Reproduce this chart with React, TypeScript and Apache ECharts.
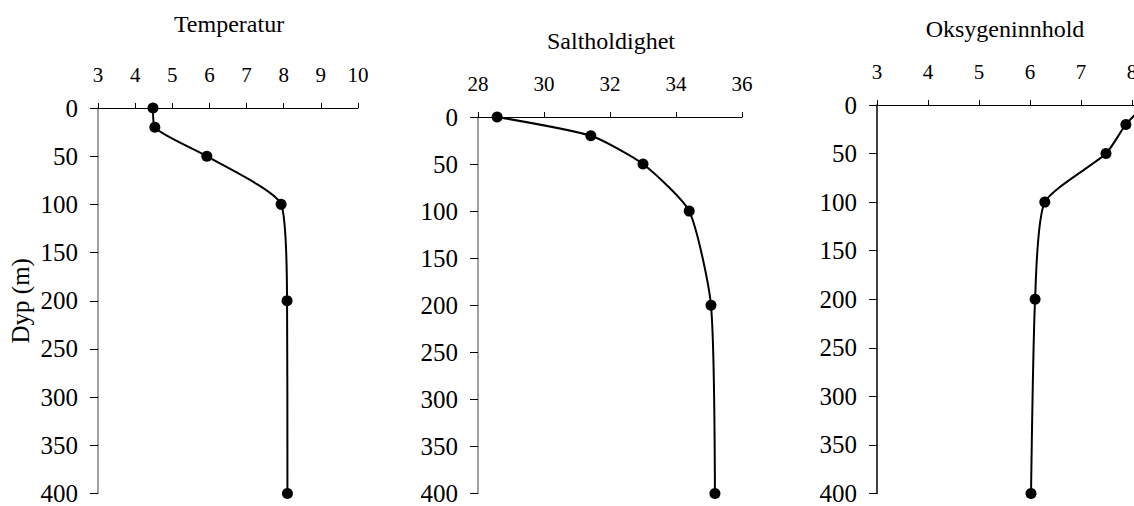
import React, { useEffect, useRef } from "react";
import * as echarts from "echarts";

const depths = [0, 20, 50, 100, 200, 400];
const temperature = [4.48, 4.53, 5.93, 7.93, 8.09, 8.1];
const salinity = [28.58, 31.42, 33.0, 34.4, 35.06, 35.18];
const oxygen = [8.25, 7.88, 7.49, 6.29, 6.1, 6.02];

const titles = ["Temperatur", "Saltholdighet", "Oksygeninnhold"];
const yAxisName = "Dyp (m)";

const FONT = "'Liberation Serif', 'Times New Roman', serif";

export default function App() {
  const ref = useRef<HTMLDivElement>(null);
  useEffect(() => {
    if (!ref.current) return;
    const chart = echarts.init(ref.current, null, { renderer: "svg" });
    const grids = [
      { left: 98, top: 108, width: 260, height: 387 },
      { left: 478, top: 117, width: 264, height: 378 },
      { left: 877, top: 105, width: 357, height: 389 },
    ];
    const xRanges = [
      { min: 3, max: 10, interval: 1 },
      { min: 28, max: 36, interval: 2 },
      { min: 3, max: 10, interval: 1 },
    ];
    const yLineColors = ["#808080", "#808080", "#000000"];
    const titlePos = [
      { x: 229, y: 24 },
      { x: 611, y: 41 },
      { x: 1005, y: 29 },
    ];
    const seriesData = [temperature, salinity, oxygen];

    const option: any = {
      animation: false,
      backgroundColor: "#ffffff",
      textStyle: { fontFamily: FONT, color: "#000" },
      title: titles.map((t, i) => ({
        text: t,
        left: titlePos[i].x,
        top: titlePos[i].y,
        textAlign: "center",
        textVerticalAlign: "middle",
        padding: 0,
        textStyle: { fontFamily: FONT, fontSize: 24, fontWeight: "normal", color: "#000" },
      })),
      grid: grids,
      xAxis: xRanges.map((r, i) => ({
        type: "value",
        gridIndex: i,
        position: "top",
        min: r.min,
        max: r.max,
        interval: r.interval,
        splitLine: { show: false },
        axisLine: { show: true, lineStyle: { color: "#000", width: 1 } },
        axisTick: { show: true, inside: false, length: 5, lineStyle: { color: "#000" } },
        axisLabel: {
          margin: 23,
          fontFamily: FONT,
          fontSize: 21,
          color: "#000",
          formatter: (v: number) => (i === 2 && v > 8 ? "" : String(v)),
        },
      })),
      yAxis: grids.map((g, i) => ({
        type: "value",
        gridIndex: i,
        inverse: true,
        min: 0,
        max: 400,
        interval: 50,
        name: i === 0 ? yAxisName : "",
        nameLocation: "middle",
        nameGap: 65,
        nameRotate: 90,
        nameTextStyle: { fontFamily: FONT, fontSize: 25, color: "#000" },
        splitLine: { show: false },
        axisLine: { show: true, lineStyle: { color: yLineColors[i], width: 1.5 } },
        axisTick: { show: true, inside: false, length: 8, lineStyle: { color: "#000" } },
        axisLabel: { margin: 20, fontFamily: FONT, fontSize: 25, color: "#000" },
      })),
      series: seriesData.map((vals, i) => ({
        type: "line",
        xAxisIndex: i,
        yAxisIndex: i,
        smooth: 0.2,
        data: vals.map((v, k) => [v, depths[k]]),
        symbol: "circle",
        symbolSize: 11,
        itemStyle: { color: "#000" },
        lineStyle: { color: "#000", width: 2 },
      })),
    };
    chart.setOption(option);
    return () => chart.dispose();
  }, []);
  return (
    <div style={{ position: "fixed", left: 0, top: 0, width: 1134, height: 506, overflow: "hidden", background: "#fff" }}>
      <div ref={ref} style={{ width: 1250, height: 506 }} />
    </div>
  );
}
